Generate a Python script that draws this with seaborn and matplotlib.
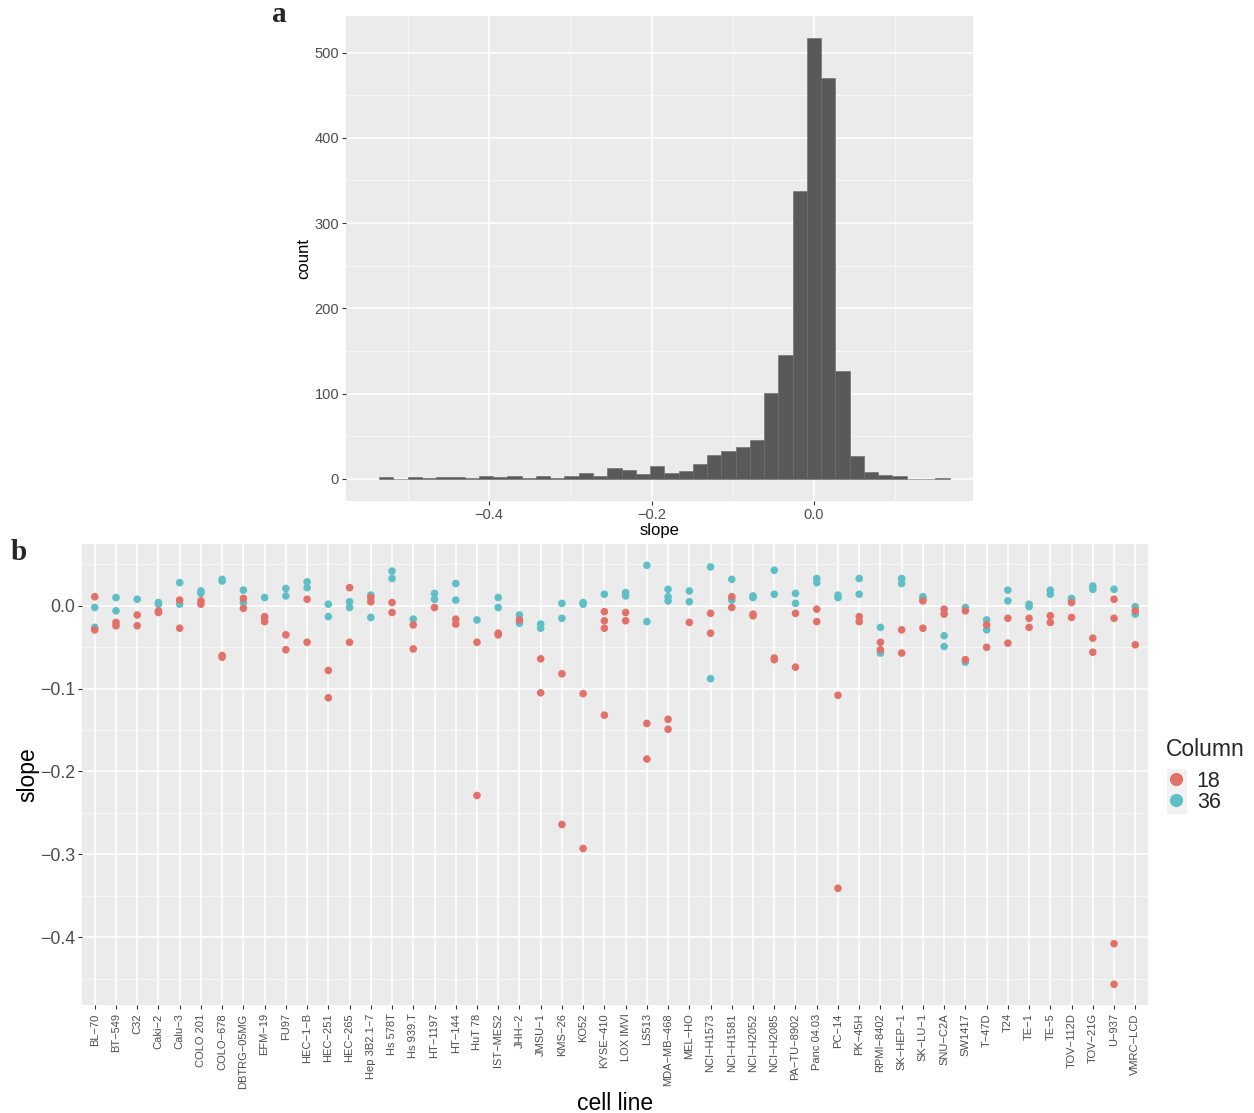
import matplotlib
matplotlib.use("Agg")
import matplotlib.pyplot as plt
from matplotlib.patches import Rectangle
from matplotlib.lines import Line2D
from matplotlib.ticker import MultipleLocator, FixedLocator
import pandas as pd
import seaborn as sns

# ---------------- data ----------------
# (a) histogram of all slopes: 40 equal-width bins
bin_start = -0.5353
bin_width = 0.01755
slope_counts = [2, 0, 2, 1, 2, 2, 1, 3, 2, 3,
                1, 3, 1, 3, 7, 3, 13, 11, 6, 15,
                7, 9, 18, 28, 33, 38, 46, 101, 145, 338,
                517, 470, 126, 27, 8, 5, 3, 0, 0, 1]

# (b) per-cell-line slopes for the two columns
cell_lines = ["BL-70", "BT-549", "C32", "Caki-2", "Calu-3", "COLO 201", "COLO-678",
              "DBTRG-05MG", "EFM-19", "FU97", "HEC-1-B", "HEC-251", "HEC-265",
              "Hep 3B2.1-7", "Hs 578T", "Hs 939.T", "HT-1197", "HT-144", "HuT 78",
              "IST-MES2", "JHH-2", "JMSU-1", "KMS-26", "KO52", "KYSE-410", "LOX IMVI",
              "LS513", "MDA-MB-468", "MEL-HO", "NCI-H1573", "NCI-H1581", "NCI-H2052",
              "NCI-H2085", "PA-TU-8902", "Panc 04.03", "PC-14", "PK-45H", "RPMI-8402",
              "SK-HEP-1", "SK-LU-1", "SNU-C2A", "SW1417", "T-47D", "T24", "TE-1", "TE-5",
              "TOV-112D", "TOV-21G", "U-937", "VMRC-LCD"]

slopes_36 = [[-0.002, -0.026], [0.010, -0.006], [0.008], [0.004, 0.002], [0.028, 0.002],
             [0.018, 0.015], [0.032, 0.030], [0.019, 0.004], [0.010, -0.015], [0.021, 0.012],
             [0.029, 0.022], [0.002, -0.013], [0.005, -0.002], [0.013, -0.014], [0.042, 0.033],
             [-0.016], [0.015, 0.008], [0.027, 0.007], [-0.017], [0.010, -0.002],
             [-0.011, -0.021], [-0.022, -0.027], [0.003, -0.015], [0.004, 0.002], [0.014],
             [0.016, 0.012], [0.049, -0.019], [0.020, 0.011, 0.006], [0.018, 0.005], [0.047, -0.088],
             [0.032, 0.007], [0.012, 0.010], [0.043, 0.014], [0.015, 0.003], [0.033, 0.028],
             [0.013, 0.010], [0.033, 0.014], [-0.026, -0.057], [0.033, 0.027], [0.011, 0.008],
             [-0.036, -0.049], [-0.002, -0.068], [-0.017, -0.029], [0.019, 0.006], [0.002, -0.001],
             [0.019, 0.014], [0.009, 0.007], [0.024, 0.020], [0.020], [-0.001, -0.010]]

slopes_18 = [[0.011, -0.029], [-0.020, -0.024], [-0.011, -0.024], [-0.006, -0.008], [0.007, -0.027],
             [0.006, 0.002], [-0.060, -0.062], [0.009, -0.003], [-0.013, -0.019], [-0.035, -0.053],
             [0.008, -0.044], [-0.078, -0.111], [0.022, -0.044], [0.010, 0.005], [0.004, -0.008],
             [-0.023, -0.052], [-0.002], [-0.016, -0.022], [-0.044, -0.229], [-0.033, -0.035],
             [-0.017], [-0.064, -0.105], [-0.082, -0.264], [-0.106, -0.293], [-0.007, -0.018, -0.027, -0.132],
             [-0.008, -0.018], [-0.142, -0.185], [-0.137, -0.149], [-0.020], [-0.009, -0.033],
             [0.011, -0.002], [-0.010, -0.012], [-0.063, -0.065], [-0.009, -0.074], [-0.004, -0.019],
             [-0.108, -0.341], [-0.013, -0.019], [-0.044, -0.053], [-0.029, -0.057], [0.006, -0.027],
             [-0.004, -0.010], [-0.006, -0.065], [-0.023, -0.050], [-0.015, -0.045], [-0.015, -0.026],
             [-0.012, -0.020], [0.004, -0.014], [-0.039, -0.056], [0.008, -0.015, -0.408, -0.457],
             [-0.006, -0.047]]

column_levels = ["18", "36"]
column_colors = {"18": "#E2716A", "36": "#5FBFC6"}

# ---------------- styling ----------------
sns.set_theme(style="darkgrid")
plt.rcParams.update({
    "font.family": ["Liberation Sans", "DejaVu Sans"],
    "axes.facecolor": "#EBEBEB",
    "grid.color": "white",
    "axes.edgecolor": "none",
    "xtick.color": "#333333",
    "ytick.color": "#333333",
    "xtick.labelcolor": "#4D4D4D",
    "ytick.labelcolor": "#4D4D4D",
    "xtick.bottom": True,
    "ytick.left": True,
    "xtick.major.size": 3,
    "ytick.major.size": 3,
    "xtick.major.width": 0.8,
    "ytick.major.width": 0.8,
})

W, H = 1254, 1113
fig = plt.figure(figsize=(W / 100, H / 100), dpi=100)


def px_axes(left, top, right, bottom):
    return fig.add_axes([left / W, 1 - bottom / H, (right - left) / W, (bottom - top) / H])


def ggplot_grid(ax):
    ax.grid(which="major", color="white", linewidth=1.1)
    ax.grid(which="minor", color="white", linewidth=0.5, alpha=0.85)
    ax.set_axisbelow(True)
    for s in ax.spines.values():
        s.set_visible(False)


# ---------------- (a) histogram ----------------
edges = [bin_start + bin_width * i for i in range(len(slope_counts) + 1)]
hist_df = pd.DataFrame({"slope": [e + bin_width / 2 for e in edges[:-1]],
                        "count": slope_counts})

ax_a = px_axes(346, 16, 973, 501)
sns.histplot(data=hist_df, x="slope", weights="count", bins=edges, ax=ax_a,
             color="#595959", alpha=1, edgecolor="#6a6a6a", linewidth=0.4)
ax_a.set_xlim(-0.576, 0.1956)
ax_a.set_ylim(-25.85, 542.85)
ax_a.xaxis.set_major_locator(FixedLocator([-0.4, -0.2, 0.0]))
ax_a.xaxis.set_minor_locator(FixedLocator([-0.5, -0.3, -0.1, 0.1]))
ax_a.yaxis.set_major_locator(MultipleLocator(100))
ax_a.yaxis.set_minor_locator(FixedLocator([50, 150, 250, 350, 450]))
ax_a.set_xticklabels(["\u22120.4", "\u22120.2", "0.0"])
ax_a.tick_params(axis="both", which="major", labelsize=10.5, pad=2)
ax_a.tick_params(axis="both", which="minor", length=0)
ggplot_grid(ax_a)
ax_a.set_xlabel("slope", fontsize=12, color="black", va="center")
ax_a.set_ylabel("count", fontsize=12, color="black", va="center")
ax_a.xaxis.set_label_coords(0.5, -0.0598)
ax_a.yaxis.set_label_coords(-0.067, 0.5)

# ---------------- (b) scatter ----------------
rows = []
for name, s18, s36 in zip(cell_lines, slopes_18, slopes_36):
    for v in s36:
        rows.append((name, v, "36"))
    for v in s18:
        rows.append((name, v, "18"))
df = pd.DataFrame(rows, columns=["cell line", "slope", "Column"])
df["cell line"] = pd.Categorical(df["cell line"], categories=cell_lines, ordered=True)

ax_b = px_axes(82, 544, 1148, 1005)
sns.scatterplot(data=df, x="cell line", y="slope", hue="Column",
                hue_order=column_levels, palette=column_colors,
                s=30, linewidth=0, ax=ax_b, legend=False)
ax_b.set_xlim(-0.6, len(cell_lines) - 0.4)
ax_b.set_ylim(-0.482, 0.0747)
ax_b.xaxis.set_major_locator(FixedLocator(range(len(cell_lines))))
ax_b.set_xticklabels([c.replace("-", "\u2212") for c in cell_lines],
                     rotation=90, fontsize=8, ha="center", va="top")
ax_b.yaxis.set_major_locator(FixedLocator([0.0, -0.1, -0.2, -0.3, -0.4]))
ax_b.yaxis.set_minor_locator(FixedLocator([0.05, -0.05, -0.15, -0.25, -0.35, -0.45]))
ax_b.set_yticklabels(["0.0", "\u22120.1", "\u22120.2", "\u22120.3", "\u22120.4"])
ax_b.tick_params(axis="y", which="major", labelsize=12.8, pad=2)
ax_b.tick_params(axis="x", which="major", pad=3)
ax_b.tick_params(axis="both", which="minor", length=0)
ggplot_grid(ax_b)
ax_b.grid(which="minor", axis="x", visible=False)
ax_b.set_xlabel("cell line", fontsize=16.5, color="black", va="center")
ax_b.set_ylabel("slope", fontsize=16.5, color="black", va="center")
ax_b.xaxis.set_label_coords(0.5, -0.2126)
ax_b.yaxis.set_label_coords(-0.0507, 0.5)

# legend on the right, ggplot style (grey key box behind the dots)
handles = [Line2D([], [], marker="o", linestyle="", markersize=9.5,
                  markerfacecolor=column_colors[k], markeredgewidth=0)
           for k in column_levels]
fig.text(1166 / W, 1 - 750 / H, "Column", fontsize=16.5, ha="left", va="center")
fig.legend(handles, column_levels, loc="upper left",
           bbox_to_anchor=(1166 / W, 1 - 771 / H), frameon=False,
           fontsize=15.5, borderpad=0, handlelength=0.93, handletextpad=0.5,
           labelspacing=0.0, borderaxespad=0)
fig.patches.append(Rectangle((1167 / W, 1 - 814 / H), 20 / W, 45 / H,
                             transform=fig.transFigure, facecolor="#F2F2F2",
                             edgecolor="none", zorder=0))

# panel letters
fig.text(272 / W, 1 - 15 / H, "a", fontsize=21, fontweight="bold",
         family="Liberation Serif", va="center", ha="left")
fig.text(11 / W, 1 - 552 / H, "b", fontsize=21, fontweight="bold",
         family="Liberation Serif", va="center", ha="left")

fig.savefig("out.png", dpi=100, facecolor="white")
